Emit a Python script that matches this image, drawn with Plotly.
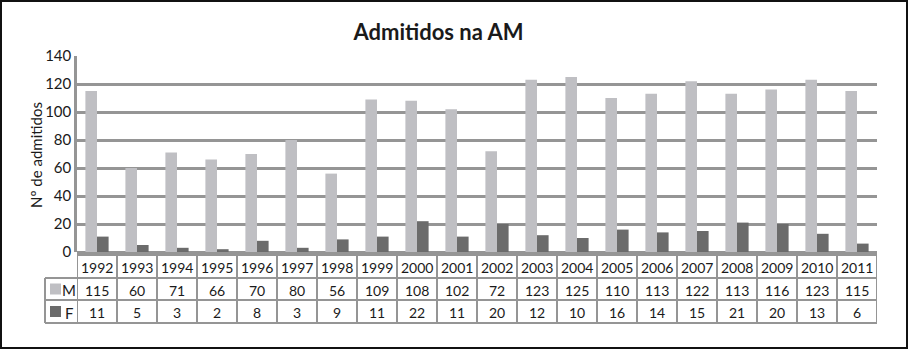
import plotly.graph_objects as go

years = ["1992", "1993", "1994", "1995", "1996", "1997", "1998", "1999", "2000", "2001",
         "2002", "2003", "2004", "2005", "2006", "2007", "2008", "2009", "2010", "2011"]
m_vals = [115, 60, 71, 66, 70, 80, 56, 109, 108, 102, 72, 123, 125, 110, 113, 122, 113, 116, 123, 115]
f_vals = [11, 5, 3, 2, 8, 3, 9, 11, 22, 11, 20, 12, 10, 16, 14, 15, 21, 20, 13, 6]
series_names = ["M", "F"]
y_ticks = [0, 20, 40, 60, 80, 100, 120, 140]

W, H = 909, 351
L, R, T, B = 77, 877, 56, 252
FONT = "Lato"
M_COLOR = "#bfbfc3"
F_COLOR = "#6b6b6b"
GRID = "#959595"
TXT = "#1a1a1a"


def px(x):
    return (x - L) / (R - L)


def py(y):
    return (B - y) / (B - T)


fig = go.Figure()
fig.add_trace(go.Bar(x=years, y=m_vals, name=series_names[0], marker=dict(color=M_COLOR, line=dict(width=0))))
fig.add_trace(go.Bar(x=years, y=f_vals, name=series_names[1], marker=dict(color=F_COLOR, line=dict(width=0))))

shapes = []
annotations = []

# outer frame
shapes.append(dict(type="rect", xref="paper", yref="paper", x0=px(1), x1=px(907), y0=py(1), y1=py(348),
                   line=dict(color="#111111", width=2), fillcolor="rgba(0,0,0,0)", layer="above"))

# table rows
row_lines = [255, 278, 300, 323]
for i, yy in enumerate(row_lines):
    x0 = px(45) if i >= 1 else 0
    shapes.append(dict(type="line", xref="paper", yref="paper", x0=x0, x1=1, y0=py(yy), y1=py(yy),
                       line=dict(color=GRID, width=2)))
# vertical separators between categories
for k in range(len(years) + 1):
    shapes.append(dict(type="line", xref="x", yref="paper", x0=k - 0.5, x1=k - 0.5,
                       y0=py(row_lines[0]), y1=py(row_lines[-1]), line=dict(color=GRID, width=2)))
shapes.append(dict(type="line", xref="paper", yref="paper", x0=px(45), x1=px(45),
                   y0=py(row_lines[1]), y1=py(row_lines[-1]), line=dict(color=GRID, width=2)))

row_centers = [(row_lines[0] + row_lines[1]) / 2 + 1, (row_lines[1] + row_lines[2]) / 2 + 1,
               (row_lines[2] + row_lines[3]) / 2 + 1]
rows = [years, m_vals, f_vals]
for r, vals in enumerate(rows):
    for k, v in enumerate(vals):
        annotations.append(dict(x=k, xref="x", y=py(row_centers[r]), yref="paper", text=str(v),
                                showarrow=False, font=dict(family=FONT, size=14, color=TXT),
                                xanchor="center", yanchor="middle"))

# legend keys in table
for r, (name, col) in enumerate(zip(series_names, [M_COLOR, F_COLOR])):
    cy = row_centers[r + 1] - 1
    shapes.append(dict(type="rect", xref="paper", yref="paper", x0=px(50), x1=px(61),
                       y0=py(cy - 5.5), y1=py(cy + 5.5), fillcolor=col, line=dict(width=0)))
    annotations.append(dict(x=px(69), xref="paper", y=py(cy + 1), yref="paper", text=name, showarrow=False,
                            font=dict(family=FONT, size=15, color=TXT), xanchor="center", yanchor="middle"))

# y-axis title
annotations.append(dict(x=px(36), xref="paper", y=py(155), yref="paper", text="Nº de admitidos",
                        textangle=-90, showarrow=False, font=dict(family=FONT, size=15, color=TXT),
                        xanchor="center", yanchor="middle"))

fig.update_layout(
    width=W, height=H,
    margin=dict(l=L, r=W - R, t=T, b=H - B, pad=0),
    paper_bgcolor="white", plot_bgcolor="white",
    title=dict(text="<b>Admitidos na AM</b>", x=px(463), xanchor="center", y=1 - 32 / H, yanchor="middle",
               font=dict(family=FONT, size=22, color=TXT)),
    showlegend=False,
    barmode="group", bargap=0.42, bargroupgap=0,
    xaxis=dict(type="category", showticklabels=False, showgrid=False, zeroline=False, showline=False,
               ticks="", range=[-0.5, len(years) - 0.5]),
    yaxis=dict(range=[0, 140], tickvals=y_ticks, showgrid=True, gridcolor=GRID, gridwidth=2.5,
               zeroline=True, zerolinecolor=GRID, zerolinewidth=2.5,
               showline=True, linecolor=GRID, linewidth=2.5, ticks="", ticklen=0,
               tickfont=dict(family=FONT, size=15, color=TXT)),
    shapes=shapes, annotations=annotations,
    font=dict(family=FONT),
)

fig.write_html("out.html")
